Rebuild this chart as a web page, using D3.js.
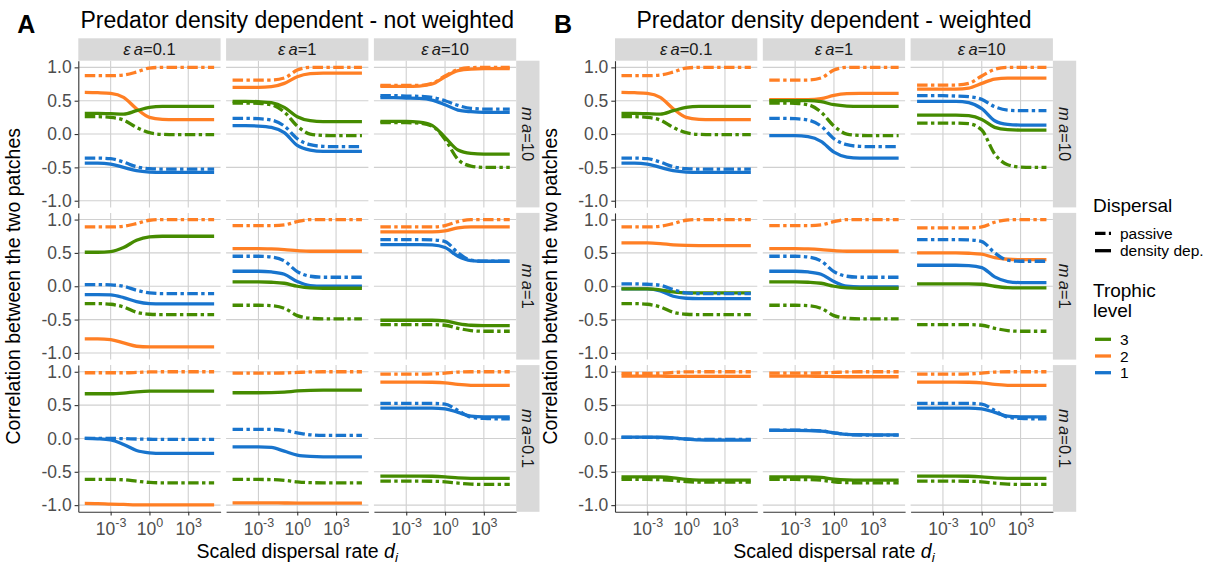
<!DOCTYPE html>
<html><head><meta charset="utf-8">
<script src="https://cdn.jsdelivr.net/npm/d3@7"></script>
<style>
body{margin:0;background:#fff}
text{font-family:"Liberation Sans",Arial,Helvetica,sans-serif}
</style>
</head><body>
<svg id="c" width="1213" height="567"></svg>
<script>
// ---------------- data ----------------
const logD = [-5,-4,-3,-2,-1,0,1,2,3,4,5];              // log10 of scaled dispersal rate
const panels = ["A","B"];
const panelTitles = ["Predator density dependent - not weighted","Predator density dependent - weighted"];
const eaValues = ["0.1","1","10"];                      // columns
const maValues = ["10","1","0.1"];                      // rows
const levels = ["3","2","1"];                           // trophic levels
const dispersalTypes = ["passive","density dep."];
const yTicks = [-1,-0.5,0,0.5,1];
const yTickLabels = ["-1.0","-0.5","0.0","0.5","1.0"];
const xTicks = [-3,0,3];
const xTickExps = ["-3","0","3"];

// each array: [col εa=0.1, col εa=1, col εa=10], values at logD
// ---- Panel A (not weighted), ma=10
const A_ma10_L2_passive = [[0.875,0.875,0.875,0.885,0.93,0.99,1,1,1,1,1],[0.81,0.81,0.81,0.81,0.84,0.96,1,1,1,1,1],[0.73,0.73,0.73,0.73,0.76,0.87,0.97,0.995,1,1,1]];
const A_ma10_L2_density = [[0.625,0.62,0.61,0.55,0.38,0.25,0.22,0.215,0.215,0.215,0.215],[0.7,0.7,0.7,0.71,0.76,0.86,0.905,0.915,0.915,0.915,0.915],[0.715,0.715,0.715,0.72,0.75,0.86,0.95,0.975,0.98,0.98,0.98]];
const A_ma10_L3_density = [[0.31,0.31,0.305,0.3,0.35,0.4,0.415,0.415,0.415,0.415,0.415],[0.49,0.49,0.485,0.47,0.4,0.26,0.2,0.185,0.185,0.185,0.185],[0.19,0.19,0.19,0.18,0.13,-0.05,-0.24,-0.29,-0.3,-0.3,-0.3]];
const A_ma10_L3_passive = [[0.26,0.26,0.25,0.21,0.1,0.02,-0.005,-0.01,-0.01,-0.01,-0.01],[0.465,0.465,0.46,0.44,0.33,0.12,0,-0.02,-0.025,-0.025,-0.025],[0.17,0.17,0.17,0.165,0.12,-0.08,-0.38,-0.48,-0.5,-0.5,-0.5]];
const A_ma10_L1_passive = [[-0.36,-0.36,-0.37,-0.42,-0.49,-0.52,-0.525,-0.525,-0.525,-0.525,-0.525],[0.235,0.235,0.23,0.21,0.12,-0.07,-0.16,-0.185,-0.19,-0.19,-0.19],[0.575,0.575,0.57,0.565,0.55,0.5,0.43,0.385,0.375,0.375,0.375]];
const A_ma10_L1_density = [[-0.435,-0.435,-0.45,-0.5,-0.55,-0.57,-0.575,-0.575,-0.575,-0.575,-0.575],[0.125,0.125,0.12,0.1,0.02,-0.17,-0.24,-0.26,-0.26,-0.26,-0.26],[0.545,0.545,0.54,0.535,0.51,0.44,0.36,0.335,0.325,0.325,0.325]];
// ---- Panel A, ma=1
const A_ma1_L2_passive = [[0.89,0.89,0.89,0.9,0.94,0.99,1,1,1,1,1],[0.91,0.91,0.91,0.91,0.92,0.97,1,1,1,1,1],[0.89,0.89,0.89,0.89,0.89,0.91,0.97,1,1,1,1]];
const A_ma1_L2_density = [[-0.79,-0.79,-0.8,-0.85,-0.9,-0.91,-0.91,-0.91,-0.91,-0.91,-0.91],[0.565,0.565,0.565,0.56,0.55,0.535,0.525,0.525,0.525,0.525,0.525],[0.815,0.815,0.815,0.815,0.815,0.83,0.875,0.89,0.89,0.89,0.89]];
const A_ma1_L3_density = [[0.51,0.51,0.52,0.58,0.69,0.74,0.75,0.75,0.75,0.75,0.75],[0.065,0.065,0.065,0.06,0.045,0,-0.025,-0.03,-0.03,-0.03,-0.03],[-0.51,-0.51,-0.51,-0.51,-0.51,-0.52,-0.56,-0.585,-0.59,-0.59,-0.59]];
const A_ma1_L3_passive = [[-0.26,-0.26,-0.27,-0.31,-0.39,-0.42,-0.425,-0.425,-0.425,-0.425,-0.425],[-0.285,-0.285,-0.285,-0.29,-0.33,-0.44,-0.48,-0.49,-0.49,-0.49,-0.49],[-0.575,-0.575,-0.575,-0.575,-0.575,-0.585,-0.63,-0.665,-0.675,-0.675,-0.675]];
const A_ma1_L1_passive = [[0.025,0.025,0.02,0,-0.06,-0.1,-0.11,-0.11,-0.11,-0.11,-0.11],[0.45,0.45,0.45,0.44,0.38,0.22,0.15,0.135,0.135,0.135,0.135],[0.7,0.7,0.7,0.7,0.695,0.67,0.5,0.39,0.375,0.375,0.375]];
const A_ma1_L1_density = [[-0.125,-0.125,-0.13,-0.17,-0.23,-0.26,-0.265,-0.265,-0.265,-0.265,-0.265],[0.225,0.225,0.225,0.215,0.18,0.07,0.01,0,0,0,0],[0.625,0.625,0.625,0.625,0.62,0.58,0.45,0.385,0.375,0.375,0.375]];
// ---- Panel A, ma=0.1
const A_ma01_L2_passive = [[0.985,0.985,0.985,0.985,0.99,0.997,1,1,1,1,1],[0.98,0.98,0.98,0.98,0.982,0.99,0.998,1,1,1,1],[0.965,0.965,0.965,0.965,0.968,0.98,0.995,1,1,1,1]];
const A_ma01_L2_density = [[-0.975,-0.978,-0.985,-0.99,-0.995,-0.995,-0.995,-0.995,-0.995,-0.995,-0.995],[-0.965,-0.965,-0.966,-0.967,-0.968,-0.969,-0.97,-0.97,-0.97,-0.97,-0.97],[0.845,0.845,0.845,0.845,0.843,0.835,0.81,0.797,0.795,0.795,0.795]];
const A_ma01_L3_density = [[0.67,0.67,0.67,0.68,0.7,0.71,0.71,0.71,0.71,0.71,0.71],[0.685,0.685,0.685,0.687,0.695,0.712,0.722,0.725,0.725,0.725,0.725],[-0.565,-0.565,-0.565,-0.565,-0.567,-0.575,-0.59,-0.598,-0.6,-0.6,-0.6]];
const A_ma01_L3_passive = [[-0.615,-0.615,-0.615,-0.62,-0.64,-0.66,-0.665,-0.665,-0.665,-0.665,-0.665],[-0.615,-0.615,-0.615,-0.617,-0.628,-0.65,-0.663,-0.665,-0.665,-0.665,-0.665],[-0.64,-0.64,-0.64,-0.64,-0.642,-0.65,-0.67,-0.685,-0.69,-0.69,-0.69]];
const A_ma01_L1_passive = [[0,0,0,-0.003,-0.008,-0.012,-0.015,-0.015,-0.015,-0.015,-0.015],[0.135,0.135,0.135,0.135,0.12,0.085,0.055,0.045,0.045,0.045,0.045],[0.525,0.525,0.525,0.525,0.525,0.515,0.42,0.32,0.3,0.295,0.295]];
const A_ma01_L1_density = [[0,-0.005,-0.02,-0.09,-0.18,-0.215,-0.225,-0.225,-0.225,-0.225,-0.225],[-0.125,-0.125,-0.125,-0.135,-0.19,-0.25,-0.27,-0.275,-0.275,-0.275,-0.275],[0.455,0.455,0.455,0.455,0.455,0.445,0.39,0.335,0.325,0.325,0.325]];
// ---- Panel B (weighted), ma=10
const B_ma10_L2_passive = [[0.875,0.875,0.875,0.885,0.93,0.99,1,1,1,1,1],[0.81,0.81,0.81,0.81,0.84,0.96,1,1,1,1,1],[0.735,0.735,0.735,0.735,0.76,0.87,0.97,1,1,1,1]];
const B_ma10_L2_density = [[0.625,0.62,0.61,0.55,0.38,0.25,0.22,0.215,0.215,0.215,0.215],[0.515,0.515,0.515,0.515,0.53,0.58,0.605,0.61,0.61,0.61,0.61],[0.675,0.675,0.675,0.675,0.69,0.76,0.825,0.84,0.84,0.84,0.84]];
const B_ma10_L3_density = [[0.31,0.31,0.305,0.3,0.35,0.4,0.415,0.415,0.415,0.415,0.415],[0.5,0.5,0.5,0.5,0.485,0.44,0.42,0.415,0.415,0.415,0.415],[0.285,0.285,0.285,0.285,0.275,0.22,0.1,0.065,0.06,0.06,0.06]];
const B_ma10_L3_passive = [[0.26,0.26,0.25,0.21,0.1,0.02,-0.005,-0.01,-0.01,-0.01,-0.01],[0.465,0.465,0.46,0.44,0.33,0.12,0,-0.02,-0.025,-0.025,-0.025],[0.165,0.165,0.165,0.165,0.155,0.06,-0.3,-0.46,-0.495,-0.5,-0.5]];
const B_ma10_L1_passive = [[-0.36,-0.36,-0.37,-0.42,-0.49,-0.52,-0.525,-0.525,-0.525,-0.525,-0.525],[0.235,0.235,0.23,0.21,0.12,-0.07,-0.16,-0.185,-0.19,-0.19,-0.19],[0.575,0.575,0.575,0.57,0.56,0.52,0.41,0.36,0.35,0.35,0.35]];
const B_ma10_L1_density = [[-0.435,-0.435,-0.45,-0.5,-0.55,-0.57,-0.575,-0.575,-0.575,-0.575,-0.575],[-0.025,-0.025,-0.025,-0.04,-0.11,-0.27,-0.345,-0.36,-0.36,-0.36,-0.36],[0.49,0.49,0.49,0.49,0.47,0.38,0.2,0.145,0.135,0.135,0.135]];
// ---- Panel B, ma=1
const B_ma1_L2_passive = [[0.89,0.89,0.89,0.9,0.94,0.99,1,1,1,1,1],[0.91,0.91,0.91,0.91,0.92,0.97,1,1,1,1,1],[0.875,0.875,0.875,0.875,0.875,0.89,0.96,0.995,1,1,1]];
const B_ma1_L2_density = [[0.65,0.65,0.65,0.64,0.62,0.612,0.61,0.61,0.61,0.61,0.61],[0.565,0.565,0.565,0.56,0.55,0.535,0.525,0.525,0.525,0.525,0.525],[0.5,0.5,0.5,0.5,0.495,0.48,0.43,0.405,0.4,0.4,0.4]];
const B_ma1_L3_density = [[-0.04,-0.04,-0.04,-0.055,-0.085,-0.1,-0.1,-0.1,-0.1,-0.1,-0.1],[0.065,0.065,0.065,0.06,0.045,0,-0.025,-0.03,-0.03,-0.03,-0.03],[0.035,0.035,0.035,0.035,0.035,0.03,0,-0.02,-0.025,-0.025,-0.025]];
const B_ma1_L3_passive = [[-0.26,-0.26,-0.27,-0.31,-0.39,-0.42,-0.425,-0.425,-0.425,-0.425,-0.425],[-0.285,-0.285,-0.285,-0.29,-0.33,-0.44,-0.48,-0.49,-0.49,-0.49,-0.49],[-0.575,-0.575,-0.575,-0.575,-0.575,-0.585,-0.63,-0.665,-0.675,-0.675,-0.675]];
const B_ma1_L1_passive = [[0.035,0.035,0.03,0.015,-0.05,-0.1,-0.11,-0.11,-0.11,-0.11,-0.11],[0.45,0.45,0.45,0.44,0.38,0.22,0.15,0.135,0.135,0.135,0.135],[0.7,0.7,0.7,0.7,0.695,0.67,0.5,0.39,0.375,0.375,0.375]];
const B_ma1_L1_density = [[-0.04,-0.04,-0.04,-0.07,-0.15,-0.18,-0.185,-0.185,-0.185,-0.185,-0.185],[0.225,0.225,0.225,0.215,0.18,0.07,0,-0.01,-0.01,-0.01,-0.01],[0.315,0.315,0.315,0.315,0.31,0.28,0.14,0.07,0.055,0.055,0.055]];
// ---- Panel B, ma=0.1
const B_ma01_L2_passive = [[0.975,0.975,0.975,0.978,0.99,0.998,1,1,1,1,1],[0.98,0.98,0.98,0.98,0.982,0.99,0.998,1,1,1,1],[0.965,0.965,0.965,0.965,0.968,0.98,0.995,1,1,1,1]];
const B_ma01_L2_density = [[0.935,0.935,0.935,0.934,0.932,0.93,0.93,0.93,0.93,0.93,0.93],[0.935,0.935,0.935,0.934,0.932,0.928,0.925,0.925,0.925,0.925,0.925],[0.845,0.845,0.845,0.845,0.843,0.835,0.81,0.797,0.795,0.795,0.795]];
const B_ma01_L3_density = [[-0.575,-0.575,-0.575,-0.578,-0.59,-0.615,-0.625,-0.625,-0.625,-0.625,-0.625],[-0.575,-0.575,-0.575,-0.577,-0.585,-0.61,-0.622,-0.625,-0.625,-0.625,-0.625],[-0.565,-0.565,-0.565,-0.565,-0.567,-0.575,-0.59,-0.598,-0.6,-0.6,-0.6]];
const B_ma01_L3_passive = [[-0.615,-0.615,-0.615,-0.618,-0.63,-0.648,-0.655,-0.655,-0.655,-0.655,-0.655],[-0.615,-0.615,-0.615,-0.617,-0.625,-0.65,-0.663,-0.665,-0.665,-0.665,-0.665],[-0.64,-0.64,-0.64,-0.64,-0.642,-0.65,-0.67,-0.685,-0.69,-0.69,-0.69]];
const B_ma01_L1_passive = [[0.015,0.015,0.015,0.013,0.005,-0.008,-0.014,-0.015,-0.015,-0.015,-0.015],[0.125,0.125,0.125,0.123,0.115,0.085,0.06,0.052,0.05,0.05,0.05],[0.525,0.525,0.525,0.525,0.525,0.515,0.42,0.32,0.3,0.295,0.295]];
const B_ma01_L1_density = [[0.02,0.02,0.02,0.018,0.008,-0.01,-0.022,-0.025,-0.025,-0.025,-0.025],[0.12,0.12,0.12,0.118,0.11,0.085,0.062,0.057,0.055,0.055,0.055],[0.455,0.455,0.455,0.455,0.455,0.445,0.39,0.335,0.325,0.325,0.325]];

// table: [panel index, row index, trophic level, dispersal, values by column]
const seriesTable = [
  [0,0,"1","density dep.",A_ma10_L1_density],[0,0,"2","density dep.",A_ma10_L2_density],[0,0,"3","density dep.",A_ma10_L3_density],
  [0,0,"1","passive",A_ma10_L1_passive],[0,0,"2","passive",A_ma10_L2_passive],[0,0,"3","passive",A_ma10_L3_passive],
  [0,1,"1","density dep.",A_ma1_L1_density],[0,1,"2","density dep.",A_ma1_L2_density],[0,1,"3","density dep.",A_ma1_L3_density],
  [0,1,"1","passive",A_ma1_L1_passive],[0,1,"2","passive",A_ma1_L2_passive],[0,1,"3","passive",A_ma1_L3_passive],
  [0,2,"1","density dep.",A_ma01_L1_density],[0,2,"2","density dep.",A_ma01_L2_density],[0,2,"3","density dep.",A_ma01_L3_density],
  [0,2,"1","passive",A_ma01_L1_passive],[0,2,"2","passive",A_ma01_L2_passive],[0,2,"3","passive",A_ma01_L3_passive],
  [1,0,"1","density dep.",B_ma10_L1_density],[1,0,"2","density dep.",B_ma10_L2_density],[1,0,"3","density dep.",B_ma10_L3_density],
  [1,0,"1","passive",B_ma10_L1_passive],[1,0,"2","passive",B_ma10_L2_passive],[1,0,"3","passive",B_ma10_L3_passive],
  [1,1,"1","density dep.",B_ma1_L1_density],[1,1,"2","density dep.",B_ma1_L2_density],[1,1,"3","density dep.",B_ma1_L3_density],
  [1,1,"1","passive",B_ma1_L1_passive],[1,1,"2","passive",B_ma1_L2_passive],[1,1,"3","passive",B_ma1_L3_passive],
  [1,2,"1","density dep.",B_ma01_L1_density],[1,2,"2","density dep.",B_ma01_L2_density],[1,2,"3","density dep.",B_ma01_L3_density],
  [1,2,"1","passive",B_ma01_L1_passive],[1,2,"2","passive",B_ma01_L2_passive],[1,2,"3","passive",B_ma01_L3_passive]
];

// ---------------- style / layout ----------------
const levelColor = d3.scaleOrdinal().domain(levels).range(["#458B00","#FF7F24","#1874CD"]);
const dashOf = d3.scaleOrdinal().domain(dispersalTypes).range(["10.5,3.4,3.4,3.4","none"]);
const LW = 3.3;
const panelW = 142.3, panelH = 146.7, gap = 5.5;
const stripH = 22.4, stripW = 23.3;
const plotLeft = [78.3, 615];
const plotTop = 60.7;
const totalW = 3*panelW + 2*gap, totalH = 3*panelH + 2*gap;
const gridCol = "#d0d0d0", axisCol = "#333333", tickTextCol = "#4d4d4d", stripFill = "#d9d9d9";

const x = d3.scaleLinear().domain([-5.5,5.5]).range([0,panelW]);
const y = d3.scaleLinear().domain([-1.1,1.1]).range([panelH,0]);
const line = d3.line().x(d=>x(d[0])).y(d=>y(d[1])).curve(d3.curveMonotoneX);

const svg = d3.select("#c");
svg.append("rect").attr("width",1213).attr("height",567).attr("fill","#fff");

function stripLabel(sel, sym, val){
  sel.append("tspan").attr("font-style","italic").text(sym);
  sel.append("tspan").text("\u2009");
  sel.append("tspan").attr("font-style","italic").text("a");
  sel.append("tspan").text("=" + val);
}

panels.forEach((P, pi) => {
  const L = plotLeft[pi];
  svg.append("text").attr("x", L - 61).attr("y", 33).attr("font-size", 25).attr("font-weight","bold").attr("fill","#000").text(P);
  svg.append("text").attr("x", L + totalW/2).attr("y", 27.5).attr("text-anchor","middle").attr("font-size", 23).attr("fill","#000").text(panelTitles[pi]);

  for (let r = 0; r < 3; r++) for (let c = 0; c < 3; c++) {
    const gx = L + c*(panelW+gap), gy = plotTop + r*(panelH+gap);
    const g = svg.append("g").attr("transform", `translate(${gx},${gy})`);
    // grid
    g.selectAll(".gy").data(yTicks).join("line").attr("x1",0).attr("x2",panelW)
      .attr("y1",d=>y(d)).attr("y2",d=>y(d)).attr("stroke",gridCol).attr("stroke-width",1.1);
    g.selectAll(".gx").data(xTicks).join("line").attr("y1",0).attr("y2",panelH)
      .attr("x1",d=>x(d)).attr("x2",d=>x(d)).attr("stroke",gridCol).attr("stroke-width",1.1);
    // series
    seriesTable.filter(s => s[0]===pi && s[1]===r).forEach(s => {
      const pts = logD.map((d,i)=>[d, s[4][c][i]]);
      g.append("path").attr("d", line(pts)).attr("fill","none")
        .attr("stroke", levelColor(s[2])).attr("stroke-width", LW)
        .attr("stroke-dasharray", dashOf(s[3])).attr("stroke-linecap","butt");
    });
    // axes
    if (c === 0) {
      const ax = g.append("g").call(d3.axisLeft(y).tickValues(yTicks).tickFormat((d,i)=>yTickLabels[i]).tickSize(3.7).tickSizeOuter(0).tickPadding(3));
      ax.attr("color", axisCol).attr("font-family", null).attr("font-size", null);
      ax.select(".domain").attr("stroke-width",1.1);
      ax.selectAll(".tick line").attr("stroke-width",1.1);
      ax.selectAll(".tick text").attr("fill", tickTextCol).attr("font-size", 17.5);
    }
    if (r === 2) {
      const ax = g.append("g").attr("transform", `translate(0,${panelH})`)
        .call(d3.axisBottom(x).tickValues(xTicks).tickFormat("").tickSize(3.7).tickSizeOuter(0));
      ax.attr("color", axisCol).attr("font-family", null).attr("font-size", null);
      ax.select(".domain").attr("stroke-width",1.1);
      ax.selectAll(".tick line").attr("stroke-width",1.1);
      ax.selectAll(".tick").each(function(d,i){
        const t = d3.select(this).append("text").attr("y", 23).attr("text-anchor","middle")
          .attr("fill", tickTextCol).attr("font-size", 17.5);
        t.append("tspan").text("10");
        t.append("tspan").attr("dy", -8).attr("font-size", 12.5).text(xTickExps[i]);
      });
    }
    // strips
    if (r === 0) {
      g.append("rect").attr("x",0).attr("y",-stripH).attr("width",panelW).attr("height",stripH).attr("fill",stripFill);
      const t = g.append("text").attr("x", panelW/2).attr("y", -stripH/2 + 5.8).attr("text-anchor","middle")
        .attr("font-size", 16.5).attr("fill","#1a1a1a");
      stripLabel(t, "\u03b5", eaValues[c]);
    }
    if (c === 2) {
      g.append("rect").attr("x",panelW).attr("y",0).attr("width",stripW).attr("height",panelH).attr("fill",stripFill);
      const t = g.append("text").attr("transform", `translate(${panelW + stripW/2 - 5.8},${panelH/2}) rotate(90)`)
        .attr("text-anchor","middle").attr("font-size", 16.5).attr("fill","#1a1a1a");
      stripLabel(t, "m", maValues[r]);
    }
  }
  // axis titles
  svg.append("text").attr("transform", `translate(${L - 58},${plotTop + totalH/2}) rotate(-90)`)
    .attr("text-anchor","middle").attr("font-size", 19.5).attr("fill","#000").text("Correlation between the two patches");
  const xt = svg.append("text").attr("x", L + totalW/2).attr("y", 558).attr("text-anchor","middle").attr("font-size", 19.5).attr("fill","#000");
  xt.append("tspan").text("Scaled dispersal rate ");
  xt.append("tspan").attr("font-style","italic").text("d");
  xt.append("tspan").attr("font-style","italic").attr("font-size",13.5).attr("dy",4).text("i");
});

// ---------------- legend ----------------
const lg = svg.append("g");
lg.append("text").attr("x",1093).attr("y",212.3).attr("font-size",19).attr("fill","#000").text("Dispersal");
const dispY = [233.3, 250.7];
dispersalTypes.forEach((d,i)=>{
  lg.append("line").attr("x1",1095).attr("x2",1111).attr("y1",dispY[i]).attr("y2",dispY[i])
    .attr("stroke","#000").attr("stroke-width",LW).attr("stroke-dasharray",dashOf(d));
  lg.append("text").attr("x",1120).attr("y",dispY[i]+5.5).attr("font-size",15.5).attr("fill","#000").text(d);
});
lg.append("text").attr("x",1093).attr("y",296.7).attr("font-size",19).attr("fill","#000").text("Trophic");
lg.append("text").attr("x",1093).attr("y",317.3).attr("font-size",19).attr("fill","#000").text("level");
const levY = [339.3, 356, 372.7];
levels.forEach((l,i)=>{
  lg.append("line").attr("x1",1095).attr("x2",1111).attr("y1",levY[i]).attr("y2",levY[i])
    .attr("stroke",levelColor(l)).attr("stroke-width",LW);
  lg.append("text").attr("x",1120).attr("y",levY[i]+5.5).attr("font-size",15.5).attr("fill","#000").text(l);
});
</script>
</body></html>
